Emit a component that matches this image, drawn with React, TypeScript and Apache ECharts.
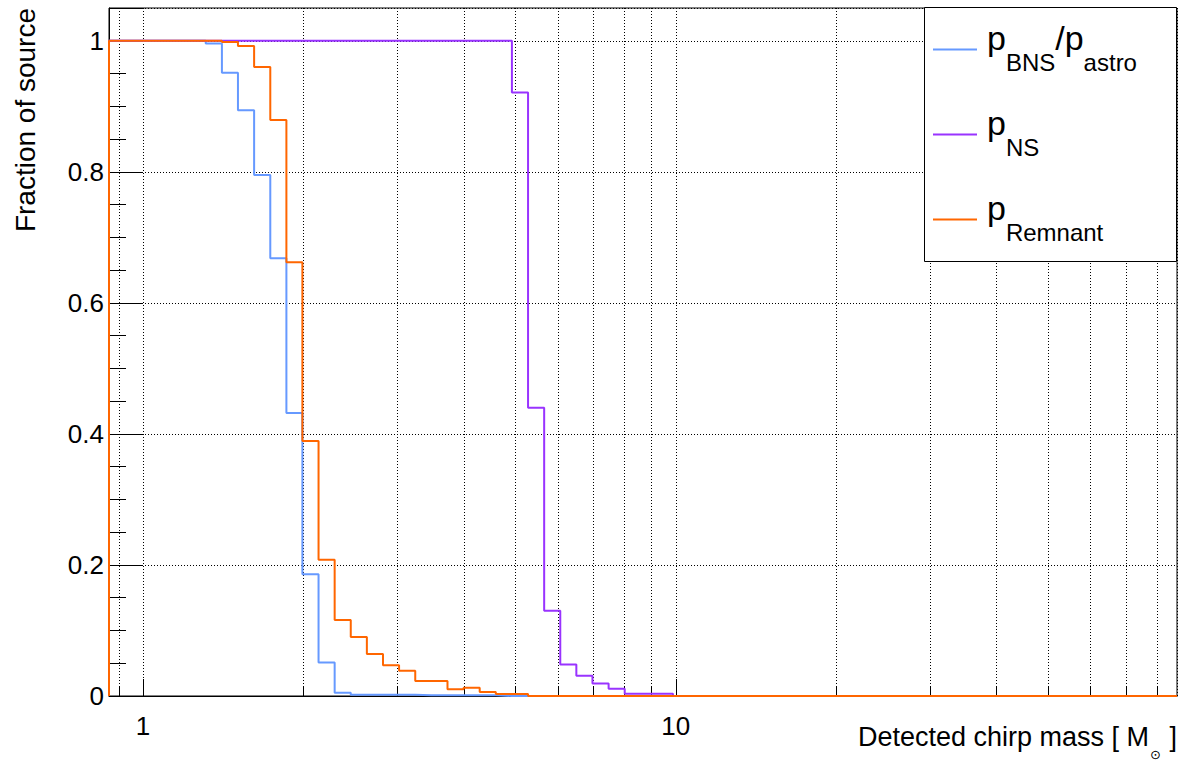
import React, { useEffect, useRef } from 'react';
import * as echarts from 'echarts';

const FONT = "'Liberation Sans', Arial, Helvetica, sans-serif";

// lower edges of the log-spaced bins (detected chirp mass, M_sun)
const binLowEdges = [
  0.863, 0.926, 0.992, 1.064, 1.141, 1.223, 1.311, 1.406, 1.507, 1.616,
  1.733, 1.858, 1.991, 2.135, 2.289, 2.454, 2.631, 2.821, 3.024, 3.243,
  3.477, 3.728, 3.997, 4.285, 4.594, 4.925, 5.281, 5.662, 6.07, 6.507,
  6.977, 7.481, 8.02, 8.599, 9.219, 9.88,
];
const xAxisMax = 87.3;
const yAxisMax = 1.05;

const pBNSastro = [
  1, 1, 1, 1, 1, 1, 0.996, 0.951, 0.894, 0.795,
  0.668, 0.432, 0.186, 0.051, 0.005, 0.002, 0.002, 0.002, 0.002, 0.001,
  0.001, 0.001, 0.001, 0.001, 0, 0, 0, 0, 0, 0,
  0, 0, 0, 0, 0, 0,
];
const pNS = [
  1, 1, 1, 1, 1, 1, 1, 1, 1, 1,
  1, 1, 1, 1, 1, 1, 1, 1, 1, 1,
  1, 1, 1, 1, 1, 0.921, 0.44, 0.13, 0.048, 0.031,
  0.019, 0.011, 0.0035, 0.0035, 0.0035, 0,
];
const pRemnant = [
  1, 1, 1, 1, 1, 1, 1, 0.998, 0.992, 0.96,
  0.879, 0.662, 0.389, 0.208, 0.116, 0.09, 0.064, 0.047, 0.0386, 0.0229,
  0.0229, 0.0102, 0.0127, 0.0061, 0.003, 0.003, 0, 0, 0, 0,
  0, 0, 0, 0, 0, 0,
];

const seriesNames = ['p_BNS/p_astro', 'p_NS', 'p_Remnant'];
const seriesColors = ['#6699ff', '#9933ff', '#ff6600'];
const seriesValues = [pBNSastro, pNS, pRemnant];
const legendLabels: Record<string, string> = {
  'p_BNS/p_astro': '{p0|p}{s|BNS}{p|/p}{s|astro}',
  'p_NS': '{p0|p}{s|NS}',
  'p_Remnant': '{p0|p}{s|Remnant}',
};

const xMinorTicks = [0.9, 2, 3, 4, 5, 6, 7, 8, 9, 20, 30, 40, 50, 60, 70, 80];

function histSteps(values: number[]) {
  const pts: number[][] = [[binLowEdges[0], 0]];
  values.forEach((v, i) => pts.push([binLowEdges[i], v]));
  pts.push([xAxisMax, values[values.length - 1]]);
  return pts;
}

export default function App() {
  const ref = useRef<HTMLDivElement>(null);
  useEffect(() => {
    if (!ref.current) return;
    const chart = echarts.init(ref.current, undefined, { renderer: 'svg' });
    const gridLine = { color: '#000', type: [1, 2], width: 1 };
    const option: any = {
      animation: false,
      backgroundColor: '#fff',
      grid: {
        left: 109, right: 3, top: 8, bottom: 68,
        show: true, borderColor: '#000', borderWidth: 1,
      },
      xAxis: {
        type: 'log', logBase: 10, min: binLowEdges[0], max: xAxisMax,
        axisLine: { show: true, lineStyle: { color: '#000', width: 1 } },
        axisTick: { show: true, inside: true, length: 17, lineStyle: { color: '#000' } },
        axisLabel: {
          color: '#000', fontSize: 26, fontFamily: FONT, margin: 17,
          showMinLabel: false, showMaxLabel: false,
        },
        splitLine: { show: true, lineStyle: gridLine },
        minorTick: { show: false },
        minorSplitLine: { show: false },
      },
      yAxis: {
        type: 'value', min: 0, max: yAxisMax, interval: 0.2,
        axisLine: { show: true, lineStyle: { color: '#000', width: 1 } },
        axisTick: { show: true, inside: true, length: 33, lineStyle: { color: '#000' } },
        minorTick: { show: true, splitNumber: 4, length: 17, lineStyle: { color: '#000' } },
        axisLabel: {
          color: '#000', fontSize: 26, fontFamily: FONT, margin: 5,
          showMaxLabel: false,
        },
        splitLine: { show: true, lineStyle: gridLine },
      },
      legend: {
        data: seriesNames.map((n) => ({ name: n, icon: 'rect' })),
        orient: 'vertical',
        left: 924, top: 8,
        padding: [13, 10, 10, 9],
        itemWidth: 44, itemHeight: 2, itemGap: 28,
        selectedMode: false,
        z: 20,
        formatter: (name: string) => legendLabels[name],
        textStyle: {
          color: '#000', fontFamily: FONT,
          rich: {
            p0: { fontSize: 34, lineHeight: 34, padding: [0, 0, 23, 5], color: '#000', fontFamily: FONT },
            p: { fontSize: 34, lineHeight: 34, padding: [0, 0, 23, 0], color: '#000', fontFamily: FONT },
            s: { fontSize: 24, lineHeight: 24, padding: [26, 0, 0, 0], color: '#000', fontFamily: FONT },
          },
        },
      },
      graphic: [
        {
          type: 'rect', z: 10, silent: true,
          shape: { x: 924.5, y: 7.5, width: 252, height: 254 },
          style: { fill: '#fff', stroke: '#000', lineWidth: 1 },
        },
        {
          type: 'text', x: 25, y: 8, rotation: Math.PI / 2, silent: true,
          style: {
            text: 'Fraction of source', fontSize: 28, fontFamily: FONT, fill: '#000',
            align: 'right', verticalAlign: 'middle',
          },
        },
        {
          type: 'text', x: 1177, y: 737.2, silent: true,
          style: {
            text: '{t|Detected chirp mass [ M}{o|⊙}{t| ]}',
            align: 'right', verticalAlign: 'middle',
            rich: {
              t: { fontSize: 27, lineHeight: 27, fontFamily: FONT, fill: '#000' },
              o: { fontSize: 13, lineHeight: 12, fontFamily: "'DejaVu Sans'", fill: '#000', padding: [35, 1, 0, 1] },
            },
          },
        },
      ],
      series: [
        {
          name: 'minorGrid', type: 'custom', silent: true, z: 1,
          data: xMinorTicks.map((v) => [v, 0]),
          encode: { x: 0, y: 1 },
          renderItem: (params: any, api: any) => {
            const v = api.value(0);
            const p0 = api.coord([v, 0]);
            const p1 = api.coord([v, yAxisMax]);
            const x = Math.round(p0[0]) + 0.5;
            return {
              type: 'group',
              children: [
                { type: 'line', shape: { x1: x, y1: p1[1], x2: x, y2: p0[1] }, style: { stroke: '#000', lineWidth: 1, lineDash: [1, 2] } },
                { type: 'line', shape: { x1: x, y1: p0[1], x2: x, y2: p0[1] - 10 }, style: { stroke: '#000', lineWidth: 1 } },
              ],
            };
          },
        },
        ...seriesNames.map((name, i) => ({
          name, type: 'line', step: 'end', symbol: 'none', showSymbol: false,
          clip: false, silent: true, z: 2 + i,
          data: histSteps(seriesValues[i]),
          lineStyle: { color: seriesColors[i], width: 2 },
          itemStyle: { color: seriesColors[i] },
        })),
      ],
    };
    chart.setOption(option);
    return () => chart.dispose();
  }, []);
  return (
    <div
      ref={ref}
      style={{ position: 'fixed', left: 0, top: 0, width: 1180, height: 764, background: '#fff' }}
    />
  );
}
